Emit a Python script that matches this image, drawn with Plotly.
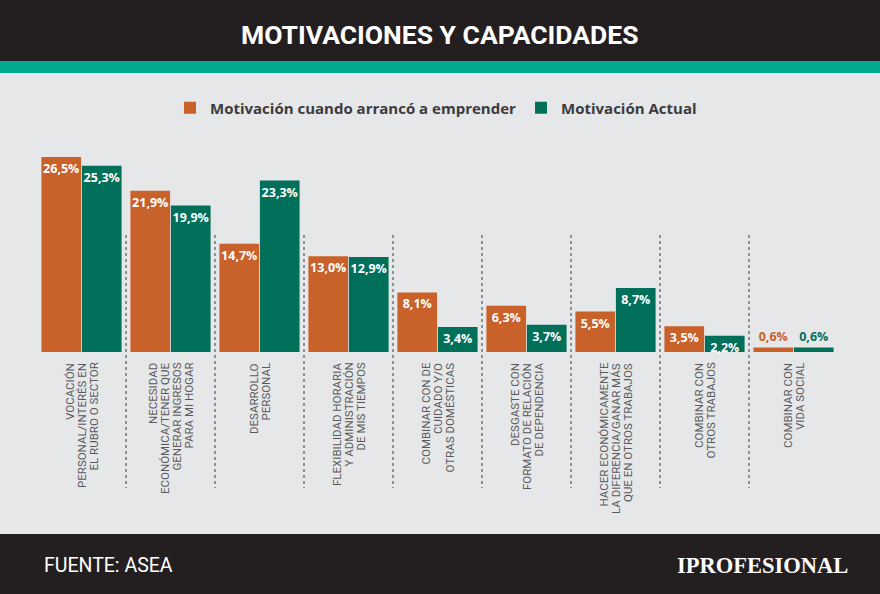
import plotly.graph_objects as go

# ---------------- data ----------------
category_lines = [
    ["VOCACIÓN", "PERSONAL/INTERÉS EN", "EL RUBRO O SECTOR"],
    ["NECESIDAD", "ECONÓMICA/TENER QUE", "GENERAR INGRESOS", "PARA MI HOGAR"],
    ["DESARROLLO", "PERSONAL"],
    ["FLEXIBILIDAD HORARIA", "Y ADMINISTRACIÓN", "DE MIS TIEMPOS"],
    ["COMBINAR CON DE", "CUIDADO Y/O", "OTRAS DOMÉSTICAS"],
    ["DESGASTE CON", "FORMATO DE RELACIÓN", "DE DEPENDENCIA"],
    ["HACER ECONÓMICAMENTE", "LA DIFERENCIA/GANAR MÁS", "QUE EN OTROS TRABAJOS"],
    ["COMBINAR CON", "OTROS TRABAJOS"],
    ["COMBINAR CON", "VIDA SOCIAL"],
]
categories = [" ".join(l) for l in category_lines]

series_names = ["Motivación cuando arrancó a emprender", "Motivación Actual"]
motivacion_inicial = [26.5, 21.9, 14.7, 13.0, 8.1, 6.3, 5.5, 3.5, 0.6]
motivacion_actual = [25.3, 19.9, 23.3, 12.9, 3.4, 3.7, 8.7, 2.2, 0.6]

title_text = "MOTIVACIONES Y CAPACIDADES"
source_text = "FUENTE: ASEA"
brand_text = "IPROFESIONAL"

# ---------------- style ----------------
W, H = 880, 594
L, R, T, B = 37, 838, 150, 352  # plot area in pixels
ORANGE = "#c9612a"
TEAL = "#00705b"
BG = "#e6e7e8"
DARK = "#231f20"
TEAL_BAND = "#00a88f"
NARROW = "Liberation Sans Narrow, Roboto, Arial"


def py(p):
    return (B - p) / (B - T)


def pxx(q):
    return (q - L) / (R - L)


def text_props(vals, color):
    pos = ["inside" if v >= 1 else "outside" for v in vals]
    cols = ["white" if v >= 1 else color for v in vals]
    return pos, cols


fig = go.Figure()
for name, vals, col in [(series_names[0], motivacion_inicial, ORANGE),
                        (series_names[1], motivacion_actual, TEAL)]:
    pos, cols = text_props(vals, col)
    fig.add_trace(go.Bar(
        x=categories, y=vals, name=name,
        marker=dict(color=col, line=dict(width=0)),
        texttemplate="%{y:.1f}%", textposition=pos, textangle=0,
        insidetextanchor="end",
        textfont=dict(family="Open Sans, Arial", size=12.5, color=cols, weight=700),
        cliponaxis=False,
    ))

shapes = [
    dict(type="rect", xref="paper", yref="paper", x0=pxx(0), x1=pxx(W),
         y0=py(0), y1=py(61), fillcolor=DARK, line_width=0, layer="below"),
    dict(type="rect", xref="paper", yref="paper", x0=pxx(0), x1=pxx(W),
         y0=py(61), y1=py(73), fillcolor=TEAL_BAND, line_width=0, layer="below"),
    dict(type="rect", xref="paper", yref="paper", x0=pxx(0), x1=pxx(W),
         y0=py(534), y1=py(H), fillcolor=DARK, line_width=0, layer="below"),
]
for i in range(len(categories) - 1):
    shapes.append(dict(type="line", xref="x", yref="paper", x0=i + 0.5, x1=i + 0.5,
                       y0=py(235), y1=py(488),
                       line=dict(color="#8f9092", width=2, dash="dot")))

annotations = [
    dict(text=title_text, xref="paper", yref="paper", x=pxx(440), y=py(35),
         xanchor="center", yanchor="middle", showarrow=False,
         font=dict(family=NARROW, size=26.5, color="white", weight=700)),
    dict(text=source_text, xref="paper", yref="paper", x=pxx(42), y=py(565),
         xanchor="left", yanchor="middle", showarrow=False,
         font=dict(family=NARROW, size=19.5, color="white")),
    dict(text=brand_text, xref="paper", yref="paper", x=pxx(850), y=py(565),
         xanchor="right", yanchor="middle", showarrow=False,
         font=dict(family="Liberation Serif, DejaVu Serif", size=22.5, color="white", weight=700)),
]
LINE_STEP = 12
for cat, lines in zip(categories, category_lines):
    n = len(lines)
    for j, line in enumerate(lines):
        annotations.append(dict(
            text=line, xref="x", yref="paper", x=cat, y=py(361),
            xshift=(j - (n - 1) / 2) * LINE_STEP,
            xanchor="center", yanchor="top", textangle=-90, showarrow=False,
            font=dict(family=NARROW, size=11.5, color="#58595b"),
        ))

fig.update_layout(
    width=W, height=H,
    margin=dict(l=L, r=W - R, t=T, b=H - B, pad=0),
    paper_bgcolor=BG, plot_bgcolor=BG,
    barmode="group", bargap=0.09, bargroupgap=0.02,
    separators=",.",
    uniformtext=dict(minsize=12.5, mode="show"),
    showlegend=True,
    legend=dict(orientation="h", x=pxx(436), xanchor="center", y=py(108), yanchor="middle",
                font=dict(family="Open Sans, Arial", size=15, color="#3b3b3d", weight=700),
                bgcolor="rgba(0,0,0,0)", itemclick=False, traceorder="normal"),
    xaxis=dict(showticklabels=False, showgrid=False, zeroline=False, showline=False,
               ticks="", fixedrange=True, range=[-0.5, len(categories) - 0.5]),
    yaxis=dict(visible=False, range=[0, 26.5 * (B - T) / 195], fixedrange=True),
    shapes=shapes, annotations=annotations,
)

fig.write_html("out.html", config={"displayModeBar": False})
